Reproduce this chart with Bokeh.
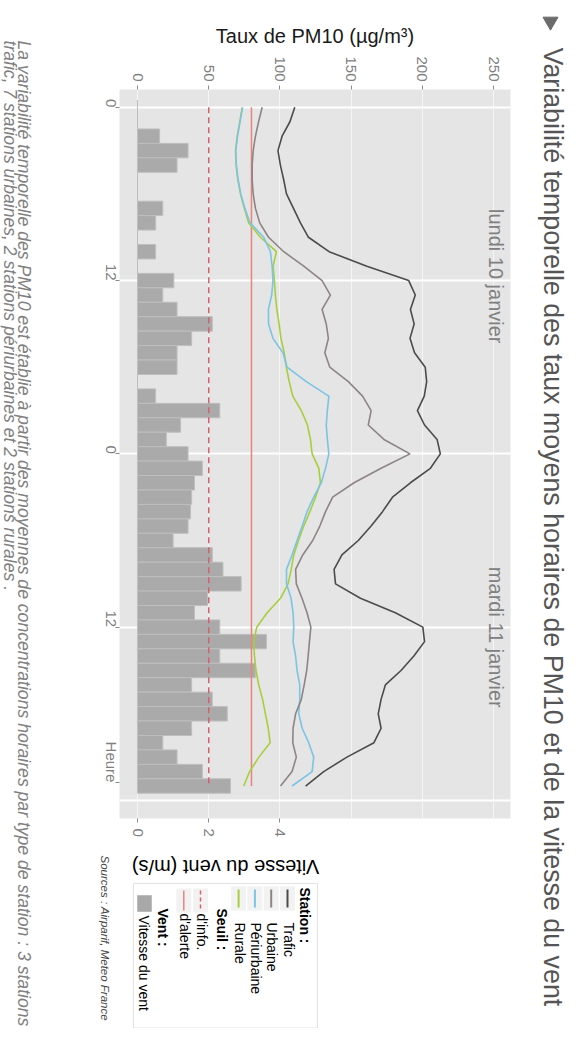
import math
from bokeh.plotting import figure
from bokeh.layouts import row, column
from bokeh.models import Range1d, LinearAxis, FixedTicker, Label
from bokeh.core.properties import value
from bokeh.embed import file_html
from bokeh.resources import INLINE

# ---------------- data ----------------
hours = list(range(48))
trafic = [110.4, 107, 101.5, 98.6, 100.3, 102.6, 104.6, 109.5, 114.4, 120,
          134.5, 161, 190.4, 195, 191.6, 194.2, 191.3, 194.5, 202, 203,
          201.3, 196.5, 201.5, 210.3, 212.6, 205.6, 191.6, 179, 172, 164,
          155, 143.5, 138, 139, 156.5, 181, 200.3, 201.5, 194, 185,
          174, 171, 169, 171, 166, 147, 130.7, 118]
urbaine = [87.5, 85, 82.8, 81.2, 80.5, 80.5, 81.2, 82.8, 85.8, 92,
           102.7, 116.7, 129.6, 135.4, 129.6, 132.5, 134, 131.5, 135, 148,
           158, 164, 162, 173, 191.3, 171, 152, 137, 132, 128,
           123, 116, 111, 111.5, 115.5, 119, 121.7, 120.7, 119.8, 118.8,
           117, 115, 111, 109.2, 109, 111.5, 108.5, 100.4]
periurbaine = [73.8, 72, 70.2, 69, 69.4, 70.6, 72.5, 75.4, 79, 88.6,
               93.3, 94.5, 95.1, 94.2, 91.9, 92, 95.1, 102.1, 105, 118.5,
               134.3, 133.3, 132.5, 133.3, 134.3, 132, 129, 123.7, 119, 115.6,
               112, 108.5, 104.6, 104.6, 107.8, 109.2, 109.7, 109.2, 111, 112,
               113.9, 113.9, 113.2, 115.6, 120.2, 123.7, 122.6, 108.5]
rurale = [73.5, 71.8, 70, 68.8, 69.2, 70.4, 72.3, 75, 78, 86.3,
          97.5, 95.2, 96.1, 96.8, 97.8, 99.4, 100.7, 103, 104.5, 106.5,
          109, 115, 119.3, 121.4, 122.6, 127.3, 128.4, 125, 121, 116.7,
          113, 109.7, 107.9, 105.7, 100.4, 91, 83.7, 81.6, 82.1, 83.2,
          85.1, 87.8, 89.8, 91.8, 93.1, 85.2, 78.7, 74.6]
vent = [0, 0, 0.62, 1.42, 1.11, 0, 0, 0.71, 0.51, 0,
        0.51, 0, 1.02, 0.71, 1.11, 2.1, 1.52, 1.11, 1.11, 0,
        0.51, 2.31, 1.21, 0.81, 1.42, 1.82, 1.6, 1.52, 1.49, 1.42,
        1.0, 2.1, 2.4, 2.91, 1.97, 1.6, 2.31, 3.62, 2.31, 3.31,
        1.52, 2.1, 2.52, 1.52, 0.71, 1.11, 1.82, 2.61]
seuil_info = 50
seuil_alerte = 80

pm_ticks = [0, 50, 100, 150, 200, 250]
hour_grid = [0, 12, 24, 36, 48]
hour_ticks = [0, 12, 24, 36, 46.75]
hour_tick_labels = ["0", "12", "0", "12", "Heure"]
wind_ticks = [0, 2, 4]
day_labels = ["lundi 10 janvier", "mardi 11 janvier"]
day_label_hours = [11.7, 36.7]
station_names = ["Trafic", "Urbaine", "Périurbaine", "Rurale"]
seuil_names = ["d'info.", "d'alerte"]
vent_name = "Vitesse du vent"

title_text = "Variabilité temporelle des taux moyens horaires de PM10 et de la vitesse du vent"
caption_1 = ("La variabilité temporelle des PM10 est établie à partir des moyennes de "
             "concentrations horaires par type de station : 3 stations")
caption_2 = "trafic, 7 stations urbaines, 2 stations périurbaines et 2 stations rurales ."
source_text = "Sources : Airparif, Meteo France"
pm_title = "Taux de PM10 (µg/m³)"
wind_title = "Vitesse du vent (m/s)"

# ---------------- styles ----------------
FONT = "Liberation Sans"
C_TRAFIC = "#4b4b4b"
C_URB = "#8e8484"
C_PERI = "#7cc3e6"
C_RUR = "#a6cf3c"
C_INFO = "#d4606a"
C_ALERTE = "#e8847c"
station_colors = [C_TRAFIC, C_URB, C_PERI, C_RUR]
PM_PER_WIND = 25.0
CW = -math.pi / 2

XR = (-12.64, 261.85)
YR = (49.25, -1.233)

# canvas regions (pixels)
LEFT_W, MID_W, RIGHT_W = 78, 437, 53
MAIN_H, BOTTOM_H = 853, 175
TOTAL_H = MAIN_H + BOTTOM_H


def no_align(f):
    try:
        f.frame_align = False
    except Exception:
        pass


def blank(width, height, x0, y0):
    """helper figure whose data units are canvas pixels (y grows downward)"""
    f = figure(width=width, height=height, output_backend="svg", toolbar_location=None,
               x_range=Range1d(x0, x0 + width), y_range=Range1d(y0 + height, y0),
               x_axis_type=None, y_axis_type=None,
               min_border=0, min_border_left=0, min_border_right=0,
               min_border_top=0, min_border_bottom=0)
    f.title.visible = False
    f.grid.visible = False
    f.outline_line_color = None
    f.background_fill_color = "white"
    f.border_fill_color = "white"
    no_align(f)
    return f


def txt(f, x, y, text, size, color="#000000", align="left", baseline="middle",
        angle=CW, style="normal"):
    f.text(x=[x], y=[y], text=[text], angle=angle,
           text_font=value(FONT), text_font_size=value(f"{size}px"),
           text_color=color, text_align=align, text_baseline=baseline,
           text_font_style=value(style))


# ---------------- main plot ----------------
p = figure(width=MID_W, height=MAIN_H, output_backend="svg", toolbar_location=None,
           x_range=Range1d(XR[0], XR[1]), y_range=Range1d(YR[0], YR[1]),
           x_axis_location="above", y_axis_location="left",
           min_border_left=41, min_border_right=5,
           min_border_top=89, min_border_bottom=35)
no_align(p)
p.title.visible = False
p.background_fill_color = "#e5e5e5"
p.border_fill_color = "white"
p.outline_line_color = None
p.extra_x_ranges = {"wind": Range1d(XR[0] / PM_PER_WIND, XR[1] / PM_PER_WIND)}

p.xgrid[0].ticker = FixedTicker(ticks=pm_ticks)
p.xgrid[0].grid_line_color = "#f5f5f5"
p.xgrid[0].grid_line_width = 1
p.ygrid[0].ticker = FixedTicker(ticks=hour_grid)
p.ygrid[0].grid_line_color = "white"
p.ygrid[0].grid_line_width = 2


def style_axis(ax, size="15px"):
    ax.major_label_orientation = -math.pi / 2
    ax.major_label_text_font = FONT
    ax.major_label_text_font_size = size
    ax.major_label_text_color = "#7f7f7f"
    ax.axis_line_color = None
    ax.major_tick_line_color = "#8a8a8a"
    ax.major_tick_out = 4
    ax.major_tick_in = 0
    ax.minor_tick_line_color = None
    ax.major_label_standoff = 4


xa = p.xaxis[0]
xa.ticker = FixedTicker(ticks=pm_ticks)
style_axis(xa)
xa.axis_label = pm_title
xa.axis_label_text_font = FONT
xa.axis_label_text_font_size = "20px"
xa.axis_label_text_font_style = "normal"
xa.axis_label_text_color = "#1a1a1a"
xa.axis_label_standoff = 6

ya = p.yaxis[0]
ya.ticker = FixedTicker(ticks=hour_ticks)
ya.major_label_overrides = {t: l for t, l in zip(hour_ticks, hour_tick_labels)}
style_axis(ya)

wa = LinearAxis(x_range_name="wind", ticker=FixedTicker(ticks=wind_ticks))
style_axis(wa)
wa.major_label_standoff = 6
p.add_layout(wa, "below")

p.hbar(y=hours, left=0, right=vent, height=1.0, x_range_name="wind",
       fill_color="#aaaaaa", line_color="#bebebe", line_width=1)

p.line(x=[seuil_info] * len(hours), y=hours, line_color=C_INFO, line_width=1.5,
       line_dash="6 4")
p.line(x=[seuil_alerte] * len(hours), y=hours, line_color=C_ALERTE, line_width=1.5)

for vals, col in zip([rurale, periurbaine, urbaine, trafic],
                     [C_RUR, C_PERI, C_URB, C_TRAFIC]):
    p.line(x=vals, y=hours, line_color=col, line_width=1.6)

for d, h in zip(day_labels, day_label_hours):
    p.add_layout(Label(x=252, y=h, text=d, angle=CW, text_font=FONT,
                       text_font_size="20px", text_color="#808080",
                       text_align="center", text_baseline="middle"))

# ---------------- left strip (caption) ----------------
fl = blank(LEFT_W, TOTAL_H, 0, 0)
txt(fl, 23, 40, caption_1, 17.6, "#808080", style="italic")
txt(fl, 9, 40, caption_2, 17.6, "#808080", style="italic")

# ---------------- right strip (title) ----------------
fr = blank(RIGHT_W, TOTAL_H, LEFT_W + MID_W, 0)
txt(fr, 552, 47, title_text, 26.8, "#555555")
fr.scatter(x=[550], y=[21], marker="inverted_triangle", size=15,
           fill_color="#6b6b6b", line_color="#6b6b6b")

# ---------------- bottom strip (wind title, legend, sources) ----------------
fb = blank(MID_W, BOTTOM_H, LEFT_W, MAIN_H)
txt(fb, 225, 866, wind_title, 20, "#000000", align="center", angle=math.pi)
txt(fb, 104, 855, source_text, 11.5, "#444444", style="italic")

fb.quad(left=[133], right=[317], top=[883], bottom=[1027.5],
        fill_color="white", line_color="#e2e2e2", line_width=1)
txt(fb, 304, 887, "Station :", 14, style="bold")
for i, (nm, col) in enumerate(zip(station_names, station_colors)):
    kx = 287 - 16.3 * i
    fb.quad(left=[kx - 7.5], right=[kx + 7.5], top=[886], bottom=[910],
            fill_color="#f2f2f2", line_color=None)
    fb.segment(x0=[kx], y0=[889], x1=[kx], y1=[907], line_color=col, line_width=2)
    txt(fb, kx + 1, 922, nm, 14)
txt(fb, 221, 908, "Seuil :", 14, style="bold")
for i, (nm, col, dash) in enumerate(zip(seuil_names, [C_INFO, C_ALERTE], ["4 3", "solid"])):
    kx = 200 - 16.7 * i
    fb.quad(left=[kx - 7.5], right=[kx + 7.5], top=[888], bottom=[912],
            fill_color="#f2f2f2", line_color=None)
    fb.segment(x0=[kx], y0=[890], x1=[kx], y1=[910], line_color=col,
               line_width=1.5, line_dash=dash)
    txt(fb, kx + 1, 913, nm, 14)
txt(fb, 162, 908, "Vent :", 14, style="bold")
fb.quad(left=[137], right=[151], top=[895], bottom=[911],
        fill_color="#a8a8a8", line_color="#bdbdbd")
txt(fb, 143, 915, vent_name, 14)

layout = row(fl, column(p, fb, spacing=0), fr, spacing=0)
open("out.html", "w").write(file_html(layout, INLINE))
